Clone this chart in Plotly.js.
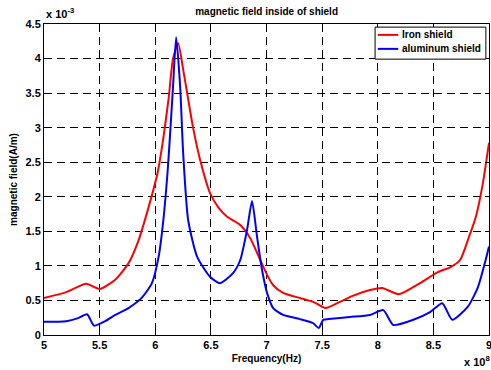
<!DOCTYPE html>
<html><head><meta charset="utf-8">
<script src="https://cdn.plot.ly/plotly-3.0.1.min.js"></script>
<style>html,body{margin:0;padding:0;background:#fff}#chart{width:491px;height:370px}</style>
</head><body><div id="chart"></div>
<script>
// Frequency in units of 1e8 Hz, field in units of 1e-3 A/m
const seriesNames = ['Iron shield', 'aluminum shield'];
const seriesColors = ['#ff0000', '#0000ff'];
const ironFreq = [5.0, 5.2, 5.38, 5.5, 5.64, 5.76, 5.85, 5.94, 6.02, 6.07, 6.12, 6.16, 6.206, 6.25, 6.287, 6.34, 6.404, 6.494, 6.57, 6.647, 6.764, 6.854, 6.944, 7.005, 7.06, 7.15, 7.30, 7.42, 7.53, 7.66, 7.78, 7.93, 8.04, 8.19, 8.38, 8.54, 8.65, 8.74, 8.82, 8.88, 8.94, 9.0];
const ironField = [0.535, 0.62, 0.74, 0.665, 0.80, 1.04, 1.37, 1.85, 2.34, 2.82, 3.42, 4.0, 4.22, 3.85, 3.50, 3.0, 2.53, 2.05, 1.84, 1.71, 1.59, 1.40, 1.085, 0.87, 0.72, 0.61, 0.535, 0.48, 0.39, 0.48, 0.57, 0.65, 0.68, 0.59, 0.75, 0.91, 0.98, 1.085, 1.42, 1.70, 2.15, 2.78];
const aluFreq = [5.0, 5.2, 5.3, 5.387, 5.45, 5.55, 5.64, 5.76, 5.88, 5.97, 6.03, 6.07, 6.11, 6.13, 6.16, 6.188, 6.224, 6.251, 6.296, 6.377, 6.494, 6.584, 6.701, 6.764, 6.825, 6.87, 6.915, 6.96, 7.005, 7.06, 7.15, 7.30, 7.42, 7.47, 7.51, 7.56, 7.75, 7.93, 8.05, 8.14, 8.32, 8.47, 8.58, 8.67, 8.81, 8.90, 8.97, 9.0];
const aluField = [0.19, 0.20, 0.24, 0.30, 0.135, 0.20, 0.29, 0.39, 0.54, 0.75, 1.13, 1.62, 2.34, 2.82, 3.6, 4.31, 3.59, 2.63, 1.66, 1.13, 0.84, 0.75, 0.90, 1.085, 1.52, 1.94, 1.42, 0.94, 0.61, 0.39, 0.29, 0.23, 0.17, 0.10, 0.22, 0.23, 0.26, 0.29, 0.36, 0.145, 0.22, 0.33, 0.46, 0.22, 0.41, 0.69, 1.085, 1.28];
const xTicks = [5, 5.5, 6, 6.5, 7, 7.5, 8, 8.5, 9];
const xTickText = ['5', '5.5', '6', '6.5', '7', '7.5', '8', '8.5', '9'];
const yTicks = [0, 0.5, 1, 1.5, 2, 2.5, 3, 3.5, 4, 4.5];
const yTickText = ['0', '0.5', '1', '1.5', '2', '2.5', '3', '3.5', '4', '4.5'];

const fam = 'Liberation Sans, Arial, sans-serif';
const axisCommon = {
  showline: true, linecolor: '#000', linewidth: 1, mirror: 'ticks',
  ticks: 'inside', ticklen: 4, tickcolor: '#000',
  showgrid: true, gridcolor: '#000', gridwidth: 1, griddash: '8px,5px',
  zeroline: false, ticklabeloverflow: 'allow',
  tickfont: {family: fam, size: 11, color: '#000', weight: 'bold'}
};
const data = [
  {x: ironFreq, y: ironField, type: 'scatter', mode: 'lines', name: seriesNames[0],
   line: {color: seriesColors[0], width: 2, shape: 'spline', smoothing: 0.6}},
  {x: aluFreq, y: aluField, type: 'scatter', mode: 'lines', name: seriesNames[1],
   line: {color: seriesColors[1], width: 2, shape: 'spline', smoothing: 0.6}}
];
// compact legend box (paper coordinates)
const lg = {x0: 0.744, x1: 0.993, y0: 0.887, y1: 0.990, lineX0: 0.750, lineX1: 0.796, rows: [0.965, 0.920]};
const shapes = [
  {type: 'rect', xref: 'paper', yref: 'paper', x0: lg.x0, x1: lg.x1, y0: lg.y0, y1: lg.y1,
   line: {color: '#000', width: 1}, fillcolor: '#fff', layer: 'above'}
];
const annotations = [
  {xref: 'paper', yref: 'paper', x: 0, y: 1, xanchor: 'left', yanchor: 'bottom', yshift: 2, showarrow: false,
   text: 'x 10<sup>-3</sup>', font: {family: fam, size: 11, weight: 'bold', color: '#000'}},
  {xref: 'paper', yref: 'paper', x: 1, y: 0, xanchor: 'right', yanchor: 'top', yshift: -17, xshift: 3, showarrow: false,
   text: 'x 10<sup>8</sup>', font: {family: fam, size: 11, weight: 'bold', color: '#000'}}
];
seriesNames.forEach((n, i) => {
  shapes.push({type: 'line', xref: 'paper', yref: 'paper', x0: lg.lineX0, x1: lg.lineX1, y0: lg.rows[i], y1: lg.rows[i],
    line: {color: seriesColors[i], width: 2}, layer: 'above'});
  annotations.push({xref: 'paper', yref: 'paper', x: lg.lineX1 + 0.004, y: lg.rows[i], xanchor: 'left', yanchor: 'middle',
    showarrow: false, text: n, font: {family: fam, size: 10, weight: 'bold', color: '#000'}});
});
const layout = {
  width: 491, height: 370,
  margin: {l: 44, r: 2, t: 24, b: 35},
  paper_bgcolor: '#fff', plot_bgcolor: '#fff',
  font: {family: fam, size: 11, color: '#000'},
  showlegend: false,
  title: {text: 'magnetic field inside of shield', font: {family: fam, size: 10, weight: 'bold', color: '#000'},
          x: 0.543, xanchor: 'center', y: 0.97, yanchor: 'middle'},
  xaxis: Object.assign({}, axisCommon, {range: [5, 9], tickvals: xTicks, ticktext: xTickText,
    title: {text: 'Frequency(Hz)', font: {family: fam, size: 10, weight: 'bold', color: '#000'}, standoff: 4}}),
  yaxis: Object.assign({}, axisCommon, {range: [0, 4.5], tickvals: yTicks, ticktext: yTickText,
    title: {text: 'magnetic field(A/m)', font: {family: fam, size: 10, weight: 'bold', color: '#000'}, standoff: 6}}),
  shapes: shapes,
  annotations: annotations
};
Plotly.newPlot('chart', data, layout, {displayModeBar: false, staticPlot: true});
</script></body></html>
